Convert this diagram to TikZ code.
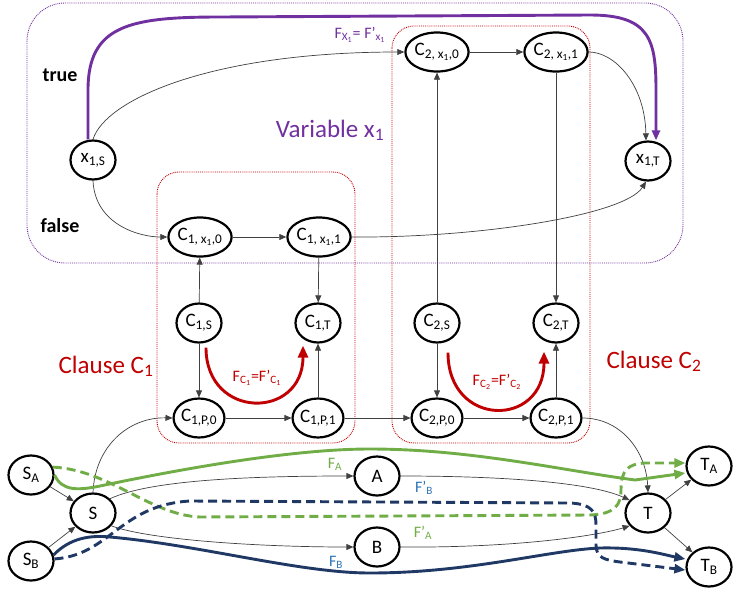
\documentclass[tikz,border=0pt]{standalone}
\usepackage{fontspec}
\setmainfont{Carlito}
\usetikzlibrary{arrows.meta,shapes.geometric}
\definecolor{vpurple}{HTML}{7030A0}
\definecolor{cred}{HTML}{C00000}
\definecolor{fgreen}{HTML}{70AD47}
\definecolor{fnavy}{HTML}{203864}
\definecolor{fblue}{HTML}{2E75B6}
\definecolor{edgegray}{HTML}{404040}
\newcommand\sbs[1]{\textsubscript{#1}}
\tikzset{
  nd/.style={draw, ellipse, fill=white, line width=2.2pt, minimum width=45pt,
    minimum height=39pt, inner sep=0pt, font=\fontsize{19}{20}\selectfont},
  ed/.style={draw=edgegray, line width=0.7pt, -{Triangle[length=7pt,width=6pt]}},
  thickflow/.style={line width=2.9pt, -{Triangle[length=11pt,width=9pt]}},
  dashflow/.style={thickflow, dash pattern=on 9pt off 5pt},
  groupbox/.style={densely dotted, line width=0.9pt},
  flabel/.style={anchor=base, inner sep=0pt, font=\fontsize{16}{18}\selectfont},
  biglabel/.style={anchor=base, inner sep=0pt, font=\fontsize{25}{28}\selectfont},
  sidelabel/.style={anchor=base, inner sep=0pt, font=\fontsize{20}{22}\selectfont\bfseries}
}
\begin{document}
\begin{tikzpicture}[x=1pt,y=-1pt]
\useasboundingbox (0,0) rectangle (734,590);

% group outlines
\draw[groupbox, draw=vpurple, rounded corners=38pt] (27,3) rectangle (683,263);
\draw[groupbox, draw=cred, rounded corners=22pt] (157,172) rectangle (355,443);
\draw[groupbox, draw=cred, rounded corners=22pt] (392,26) rectangle (590,443);

% variable gadget
\node[nd] (x1S) at (93,160) {x\sbs{1,S}};
\node[nd] (x1T) at (648,161) {x\sbs{1,T}};
\node[nd] (C1x0) at (200,237) {C\sbs{1, x\sbs{1},0}};
\node[nd] (C1x1) at (319,237) {C\sbs{1, x\sbs{1},1}};
\node[nd] (C2x0) at (437,52) {C\sbs{2, x\sbs{1},0}};
\node[nd] (C2x1) at (556,52) {C\sbs{2, x\sbs{1},1}};

% clause gadgets
\node[nd] (C1S) at (199,323) {C\sbs{1,S}};
\node[nd] (C1T) at (318,323) {C\sbs{1,T}};
\node[nd] (C1P0) at (199,418) {C\sbs{1,P,0}};
\node[nd] (C1P1) at (318,418) {C\sbs{1,P,1}};
\node[nd] (C2S) at (437,323) {C\sbs{2,S}};
\node[nd] (C2T) at (556,323) {C\sbs{2,T}};
\node[nd] (C2P0) at (437,418) {C\sbs{2,P,0}};
\node[nd] (C2P1) at (556,418) {C\sbs{2,P,1}};

% path network
\node[nd] (SA) at (31,475) {S\sbs{A}};
\node[nd] (S) at (93,513) {S};
\node[nd] (SB) at (31,561) {S\sbs{B}};
\node[nd] (A) at (377,476) {A};
\node[nd] (B) at (377,547) {B};
\node[nd] (T) at (648,513) {T};
\node[nd] (TA) at (709,466) {T\sbs{A}};
\node[nd] (TB) at (709,567) {T\sbs{B}};

% thin edges: variable gadget
\draw[ed] (x1S.north) .. controls (105,100) and (210,52) .. (C2x0.west);
\draw[ed] (x1S.south) .. controls (95,225) and (140,237) .. (C1x0.west);
\draw[ed] (C1x0) -- (C1x1);
\draw[ed] (C1x1.east) .. controls (480,238) and (625,215) .. ([xshift=-2pt]x1T.south);
\draw[ed] (C2x0) -- (C2x1);
\draw[ed] (C2x1.east) .. controls (615,52) and (645,85) .. ([xshift=-2pt]x1T.north);

% thin edges: clauses
\draw[ed] (C1S) -- (C1x0);
\draw[ed] (C1x1) -- (C1T);
\draw[ed] (C1S) -- (C1P0);
\draw[ed] (C1P1) -- (C1T);
\draw[ed] (C1P0) -- (C1P1);
\draw[ed] (C1P1) -- (C2P0);
\draw[ed] (C2S) -- (C2x0);
\draw[ed] (C2x1) -- (C2T);
\draw[ed] (C2S) -- (C2P0);
\draw[ed] (C2P0) -- (C2P1);
\draw[ed] (C2P1) -- (C2T);

% thin edges: network
\draw[ed] (S.north) .. controls (95,445) and (130,417) .. (C1P0.west);
\draw[ed] (C2P1.east) .. controls (620,418) and (646,450) .. (T.north);
\draw[ed] (SA) -- (S);
\draw[ed] (SB) -- (S);
\draw[ed] (S.40) .. controls (150,480) and (250,476) .. (A.west);
\draw[ed] (S.-35) .. controls (150,540) and (260,547) .. (B.west);
\draw[ed] (A.east) .. controls (500,476) and (590,482) .. (T.145);
\draw[ed] (B.east) .. controls (520,548) and (600,535) .. (T.-145);
\draw[ed] (T) -- (TA);
\draw[ed] (T) -- (TB);

% flows
\draw[thickflow, vpurple, -{Triangle[length=10pt,width=8pt]}] ([xshift=-5pt]x1S.north) -- (88,90)
  .. controls (88,25) and (130,17) .. (220,17) -- (590,15)
  .. controls (650,15) and (656,40) .. (656,90) -- ([xshift=8pt]x1T.north);
\draw[thickflow, cred, -{Triangle[length=12pt,width=10pt]}] ([xshift=7pt,yshift=-4pt]C1S.south)
  .. controls (206,420) and (303,420) .. ([xshift=-15pt,yshift=-2pt]C1T.south);
\draw[thickflow, cred, -{Triangle[length=12pt,width=10pt]}] ([xshift=11pt,yshift=-9pt]C2S.south)
  .. controls (448,428) and (544,428) .. ([xshift=-12pt,yshift=-8pt]C2T.south);

\draw[thickflow, fgreen] (SA.east) .. controls (62,492) and (80,490) .. (100,486)
  .. controls (200,465) and (300,449) .. (370,449)
  .. controls (470,449) and (560,470) .. (635,480) -- ([yshift=-7pt]TA.west);
\draw[dashflow, fgreen] (SA.20) .. controls (110,470) and (150,515) .. (200,517)
  -- (590,515) .. controls (615,514) and (621,505) .. (621,490)
  .. controls (621,470) and (628,464) .. (645,463) -- ([yshift=3pt]TA.west);
\draw[dashflow, fnavy] (SB.5) .. controls (110,555) and (120,505) .. (190,501)
  -- (570,503) .. controls (592,504) and (596,512) .. (596,525) -- (596,545)
  .. controls (596,558) and (605,560) .. (620,562) -- ([yshift=-3pt]TB.west);
\draw[thickflow, fnavy] (SB.15) .. controls (70,538) and (90,535) .. (110,537)
  .. controls (200,545) and (300,573) .. (370,573)
  .. controls (470,573) and (550,550) .. (600,548)
  .. controls (640,547) and (665,555) .. ([yshift=8pt]TB.west);

% labels
\node[sidelabel] (ltrue) at (60,81) {true};
\node[sidelabel] (lfalse) at (60,232) {false};
\node[biglabel, text=vpurple] (lvar) at (330,137) {Variable x\sbs{1}};
\node[biglabel, text=cred] (lcl1) at (106,373) {Clause C\sbs{1}};
\node[biglabel, text=cred] (lcl2) at (654,368) {Clause C\sbs{2}};
\node[flabel, text=vpurple] (lfx) at (360,38) {F\sbs{X\sbs{1}}= F’\sbs{x\sbs{1}}};
\node[flabel, text=cred] (lfc1) at (257,381) {F\sbs{C\sbs{1}}=F’\sbs{C\sbs{1}}};
\node[flabel, text=cred] (lfc2) at (497,385) {F\sbs{C\sbs{2}}=F’\sbs{C\sbs{2}}};
\node[flabel, text=fgreen] (lfa) at (335,468) {F\sbs{A}};
\node[flabel, text=fblue] (lfpb) at (424,492) {F’\sbs{B}};
\node[flabel, text=fgreen] (lfpa) at (423,537) {F’\sbs{A}};
\node[flabel, text=fblue] (lfb) at (336,566) {F\sbs{B}};
\end{tikzpicture}
\end{document}
